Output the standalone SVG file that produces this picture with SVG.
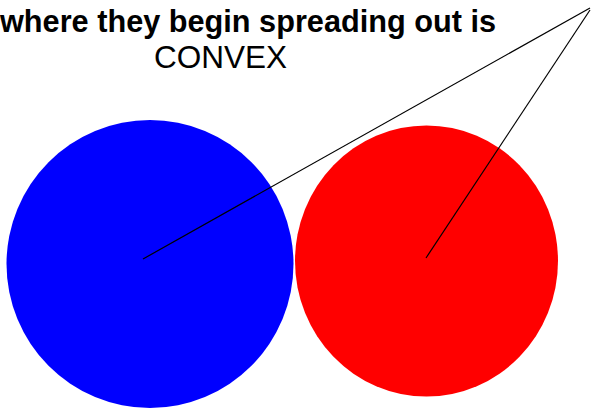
<svg xmlns="http://www.w3.org/2000/svg" width="591" height="408" viewBox="0 0 591 408">
<style>
.t{font-family:"Liberation Sans",Arial,sans-serif;fill:#000}
.conn line{stroke:#000;stroke-width:1.2;fill:none}
</style>
<rect width="591" height="408" fill="#fff"/>
<g id="label">
<text class="t" x="0" y="32" font-size="30.5" font-weight="bold" textLength="496" lengthAdjust="spacingAndGlyphs">where they begin spreading out is</text>
<text class="t" x="154" y="68" font-size="31.5" textLength="133" lengthAdjust="spacingAndGlyphs">CONVEX</text>
</g>
<g id="blue-circle"><ellipse cx="150" cy="264" rx="143.5" ry="144" fill="#0000ff"/></g>
<g id="red-circle"><ellipse cx="426.5" cy="261" rx="131.5" ry="135.5" fill="#ff0000"/></g>
<g class="conn" id="connectors">
<line x1="143" y1="259" x2="590" y2="8"/>
<line x1="426" y1="258" x2="590" y2="10"/>
</g>
</svg>
